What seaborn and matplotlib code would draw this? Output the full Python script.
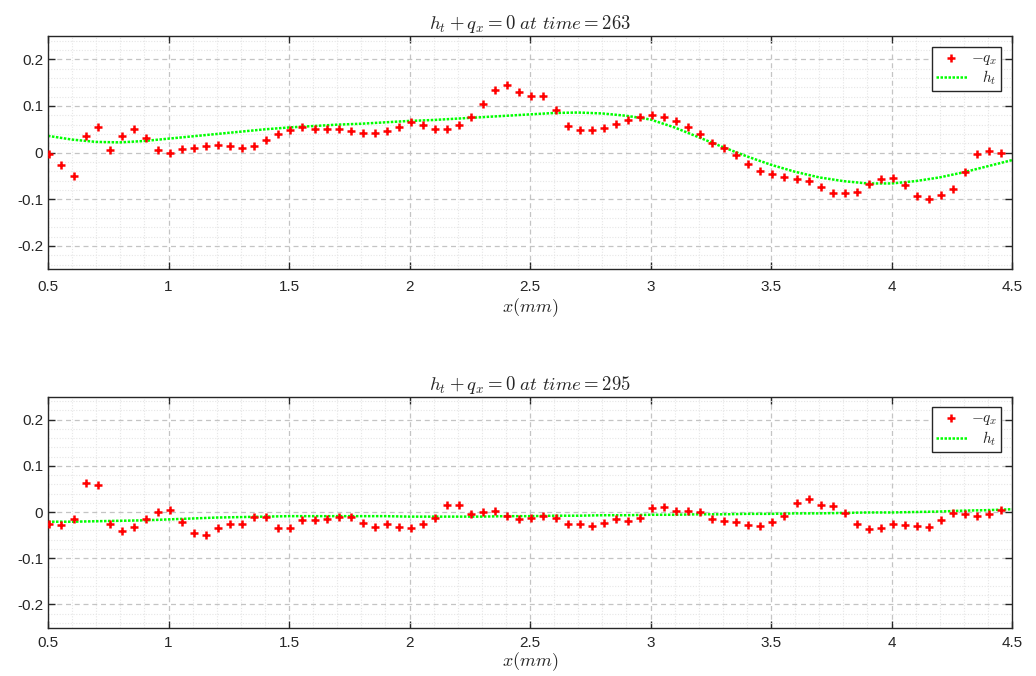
import numpy as np
import pandas as pd
import matplotlib
matplotlib.use("Agg")
import matplotlib.pyplot as plt
from matplotlib.ticker import MultipleLocator
import seaborn as sns

sns.set_theme(style="white")
plt.rcParams["font.family"] = ["Liberation Sans", "DejaVu Sans"]
plt.rcParams["mathtext.fontset"] = "cm"
plt.rcParams["axes.unicode_minus"] = False

# sample positions of the flux divergence (mm)
x_q = np.round(0.506 + 0.05 * np.arange(80), 3)
# positions of the height-rate curve (mm)
x_h = np.round(np.arange(0.5, 4.501, 0.1), 2)

times = [263, 295]

neg_qx_263 = [
    -0.003, -0.026, -0.050, 0.035, 0.056, 0.005, 0.036, 0.050, 0.031, 0.006,
    -0.001, 0.008, 0.011, 0.014, 0.016, 0.014, 0.011, 0.015, 0.028, 0.040,
    0.049, 0.055, 0.050, 0.050, 0.051, 0.047, 0.042, 0.043, 0.046, 0.056,
    0.066, 0.060, 0.051, 0.051, 0.059, 0.077, 0.105, 0.134, 0.144, 0.129,
    0.121, 0.121, 0.092, 0.057, 0.048, 0.049, 0.053, 0.061, 0.071, 0.077,
    0.080, 0.076, 0.067, 0.056, 0.039, 0.021, 0.009, -0.006, -0.024, -0.039,
    -0.046, -0.052, -0.056, -0.061, -0.074, -0.087, -0.087, -0.084, -0.068, -0.056,
    -0.054, -0.070, -0.092, -0.099, -0.090, -0.078, -0.041, -0.003, 0.004, 0.000,
]
h_t_263 = [
    0.036, 0.028, 0.023, 0.022, 0.025, 0.030, 0.035, 0.040, 0.045, 0.050,
    0.054, 0.057, 0.060, 0.062, 0.065, 0.068, 0.070, 0.073, 0.076, 0.079,
    0.082, 0.085, 0.086, 0.084, 0.079, 0.071, 0.054, 0.033, 0.012, -0.008,
    -0.026, -0.041, -0.053, -0.061, -0.066, -0.066, -0.061, -0.053, -0.042, -0.029,
    -0.016,
]

neg_qx_295 = [
    -0.025, -0.029, -0.015, 0.063, 0.058, -0.025, -0.041, -0.033, -0.016, 0.001,
    0.005, -0.022, -0.045, -0.049, -0.035, -0.027, -0.026, -0.011, -0.011, -0.035,
    -0.034, -0.017, -0.018, -0.016, -0.011, -0.010, -0.024, -0.032, -0.025, -0.033,
    -0.034, -0.026, -0.014, 0.016, 0.015, -0.004, -0.001, 0.003, -0.009, -0.016,
    -0.014, -0.008, -0.013, -0.025, -0.027, -0.030, -0.024, -0.015, -0.019, -0.012,
    0.009, 0.011, 0.002, 0.003, -0.001, -0.015, -0.019, -0.022, -0.029, -0.030,
    -0.022, -0.008, 0.019, 0.029, 0.016, 0.012, -0.002, -0.025, -0.036, -0.034,
    -0.026, -0.028, -0.030, -0.033, -0.018, -0.002, -0.004, -0.009, -0.004, 0.004,
]
h_t_295 = [
    -0.021, -0.021, -0.020, -0.019, -0.018, -0.016, -0.014, -0.012, -0.011, -0.010,
    -0.009, -0.009, -0.009, -0.009, -0.009, -0.010, -0.010, -0.010, -0.010, -0.009,
    -0.009, -0.008, -0.008, -0.007, -0.007, -0.006, -0.006, -0.005, -0.005, -0.004,
    -0.004, -0.003, -0.003, -0.002, -0.001, -0.001, 0.000, 0.001, 0.003, 0.004,
    0.006,
]

x_ticks = [0.5, 1, 1.5, 2, 2.5, 3, 3.5, 4, 4.5]
x_tick_labels = ["0.5", "1", "1.5", "2", "2.5", "3", "3.5", "4", "4.5"]
y_ticks = [-0.2, -0.1, 0, 0.1, 0.2]
y_tick_labels = ["-0.2", "-0.1", "0", "0.1", "0.2"]

panels = [
    (times[0], neg_qx_263, h_t_263),
    (times[1], neg_qx_295, h_t_295),
]

W, H = 1036, 676
fig = plt.figure(figsize=(W / 100, H / 100), dpi=100, facecolor="white")
ax_boxes = [
    [48 / W, (H - 269.3) / H, 964 / W, 233.3 / H],
    [48 / W, (H - 627.5) / H, 964 / W, 231.0 / H],
]
label_pads = [1.5, 0.0]
tick_pads = [7.5, 6.0]

for box, lpad, tpad, (t, qvals, hvals) in zip(ax_boxes, label_pads, tick_pads, panels):
    ax = fig.add_axes(box)
    ax.set_axisbelow(True)
    dq = pd.DataFrame({"x": x_q, "v": qvals})
    dh = pd.DataFrame({"x": x_h, "v": hvals})

    sns.scatterplot(data=dq, x="x", y="v", ax=ax, marker="+", color="red",
                    s=26, linewidth=1.8, label=r"$-q_x$", zorder=3)
    sns.lineplot(data=dh, x="x", y="v", ax=ax, color="#00ff00",
                 linewidth=1.8, linestyle=(0, (1, 0.6)),
                 label=r"$\;\;\;h_t$", zorder=2)

    ax.set_xlim(0.5, 4.5)
    ax.set_ylim(-0.25, 0.25)
    ax.set_xticks(x_ticks)
    ax.set_xticklabels(x_tick_labels)
    ax.set_yticks(y_ticks)
    ax.set_yticklabels(y_tick_labels)
    ax.xaxis.set_minor_locator(MultipleLocator(0.1))
    ax.yaxis.set_minor_locator(MultipleLocator(0.02))

    ax.grid(which="major", color="#c4c4c4", linestyle=(0, (4, 3)), linewidth=0.9)
    ax.grid(which="minor", color="#e6e6e6", linestyle=(0, (1, 1.5)), linewidth=0.8)

    ax.tick_params(which="major", direction="in", length=5, width=1.0,
                   top=True, right=True, bottom=True, left=True,
                   labelsize=11, colors="#262626")
    ax.tick_params(axis="x", which="major", pad=tpad)
    ax.tick_params(axis="y", which="major", pad=3.5)
    ax.tick_params(which="minor", length=0)
    for sp in ax.spines.values():
        sp.set_visible(True)
        sp.set_color("#262626")
        sp.set_linewidth(1.0)

    ax.set_xlabel(r"$x(mm)$", fontsize=13, labelpad=lpad, color="#262626")
    ax.set_ylabel("")
    ax.set_title(r"$h_t + q_x = 0\ at\ time = %d$" % t, fontsize=13.5,
                 pad=5, color="#262626")

    leg = ax.legend(loc="upper right", fontsize=11, frameon=True, fancybox=False,
                    edgecolor="#262626", framealpha=1, borderpad=0.25,
                    handlelength=2.0, handletextpad=0.3, labelspacing=0.15,
                    borderaxespad=0.7)
    leg.get_frame().set_linewidth(1.0)

fig.savefig("out.png", dpi=100, facecolor="white")
